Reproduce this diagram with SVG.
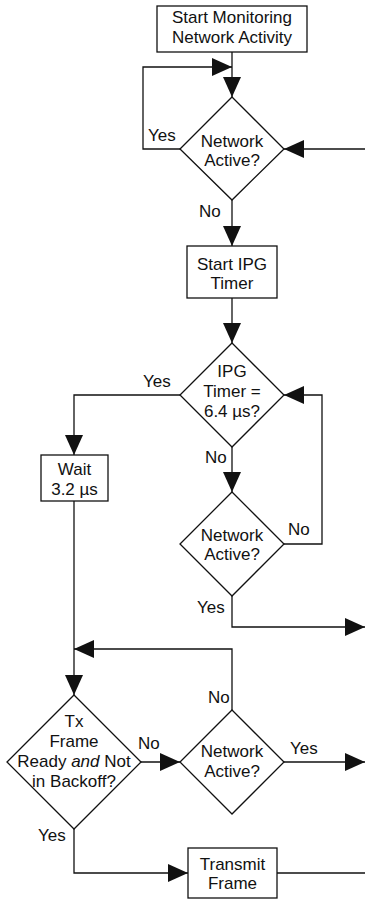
<svg xmlns="http://www.w3.org/2000/svg" width="365" height="899" viewBox="0 0 365 899">
  <style>
    .shape { fill: #fff; stroke: #111; stroke-width: 1.3; }
    .wire { fill: none; stroke: #111; stroke-width: 1.3; }
    text { font-family: "Liberation Sans", Arial, sans-serif; font-size: 17px; fill: #111; }
    .c { text-anchor: middle; }
  </style>
  <defs>
    <marker id="ah" viewBox="0 0 20 18" refX="20" refY="9" markerWidth="20" markerHeight="18" markerUnits="userSpaceOnUse" orient="auto">
      <path d="M0,0 L20,9 L0,18 z" fill="#111"/>
    </marker>
  </defs>

  <!-- connectors -->
  <g id="connectors">
    <path class="wire" d="M232,52 V97" marker-end="url(#ah)"/>
    <path class="wire" d="M180,149 H143 V67 H232" marker-end="url(#ah)"/>
    <path class="wire" d="M365,149 H284" marker-end="url(#ah)"/>
    <path class="wire" d="M232,200 V246" marker-end="url(#ah)"/>
    <path class="wire" d="M232,298 V343" marker-end="url(#ah)"/>
    <path class="wire" d="M180,395 H74 V455" marker-end="url(#ah)"/>
    <path class="wire" d="M232,447 V492" marker-end="url(#ah)"/>
    <path class="wire" d="M284,544 H322 V395 H284" marker-end="url(#ah)"/>
    <path class="wire" d="M232,596 V627 H365" marker-end="url(#ah)"/>
    <path class="wire" d="M74,501 V695" marker-end="url(#ah)"/>
    <path class="wire" d="M232,710 V649 H74" marker-end="url(#ah)"/>
    <path class="wire" d="M141,762 H180" marker-end="url(#ah)"/>
    <path class="wire" d="M284,762 H365" marker-end="url(#ah)"/>
    <path class="wire" d="M74,829 V873 H188" marker-end="url(#ah)"/>
    <path class="wire" d="M277,873 H365"/>
  </g>

  <!-- edge labels -->
  <g id="labels">
    <text x="148" y="141">Yes</text>
    <text x="199" y="217">No</text>
    <text x="143" y="387">Yes</text>
    <text x="205" y="463">No</text>
    <text x="288" y="535">No</text>
    <text x="197" y="613">Yes</text>
    <text x="208" y="703">No</text>
    <text x="290" y="754">Yes</text>
    <text x="138" y="749">No</text>
    <text x="38" y="841">Yes</text>
  </g>

  <g id="start-monitoring">
    <rect class="shape" x="157" y="6" width="150" height="46"/>
    <text class="c" x="232" y="23">Start Monitoring</text>
    <text class="c" x="232" y="43">Network Activity</text>
  </g>

  <g id="network-active-1">
    <polygon class="shape" points="232,97 284,149 232,200 180,149"/>
    <text class="c" x="232" y="147">Network</text>
    <text class="c" x="232" y="166">Active?</text>
  </g>

  <g id="start-ipg-timer">
    <rect class="shape" x="187" y="246" width="90" height="52"/>
    <text class="c" x="232" y="270">Start IPG</text>
    <text class="c" x="232" y="289">Timer</text>
  </g>

  <g id="ipg-timer-check">
    <polygon class="shape" points="232,343 284,395 232,447 180,395"/>
    <text class="c" x="232" y="377">IPG</text>
    <text class="c" x="232" y="397">Timer =</text>
    <text class="c" x="232" y="417">6.4 µs?</text>
  </g>

  <g id="wait">
    <rect class="shape" x="41" y="455" width="67" height="46"/>
    <text class="c" x="74.5" y="475">Wait</text>
    <text class="c" x="74.5" y="495">3.2 µs</text>
  </g>

  <g id="network-active-2">
    <polygon class="shape" points="232,492 284,544 232,596 180,544"/>
    <text class="c" x="232" y="541">Network</text>
    <text class="c" x="232" y="560">Active?</text>
  </g>

  <g id="tx-frame-ready">
    <polygon class="shape" points="74,695 141,762 74,829 7,762"/>
    <text class="c" x="74" y="727">Tx</text>
    <text class="c" x="74" y="747">Frame</text>
    <text class="c" x="74" y="767">Ready <tspan font-style="italic">and</tspan> Not</text>
    <text class="c" x="74" y="787">in Backoff?</text>
  </g>

  <g id="network-active-3">
    <polygon class="shape" points="232,710 284,762 232,814 180,762"/>
    <text class="c" x="232" y="757">Network</text>
    <text class="c" x="232" y="777">Active?</text>
  </g>

  <g id="transmit-frame">
    <rect class="shape" x="188" y="848" width="89" height="50"/>
    <text class="c" x="232.5" y="870">Transmit</text>
    <text class="c" x="232.5" y="889">Frame</text>
  </g>
</svg>
